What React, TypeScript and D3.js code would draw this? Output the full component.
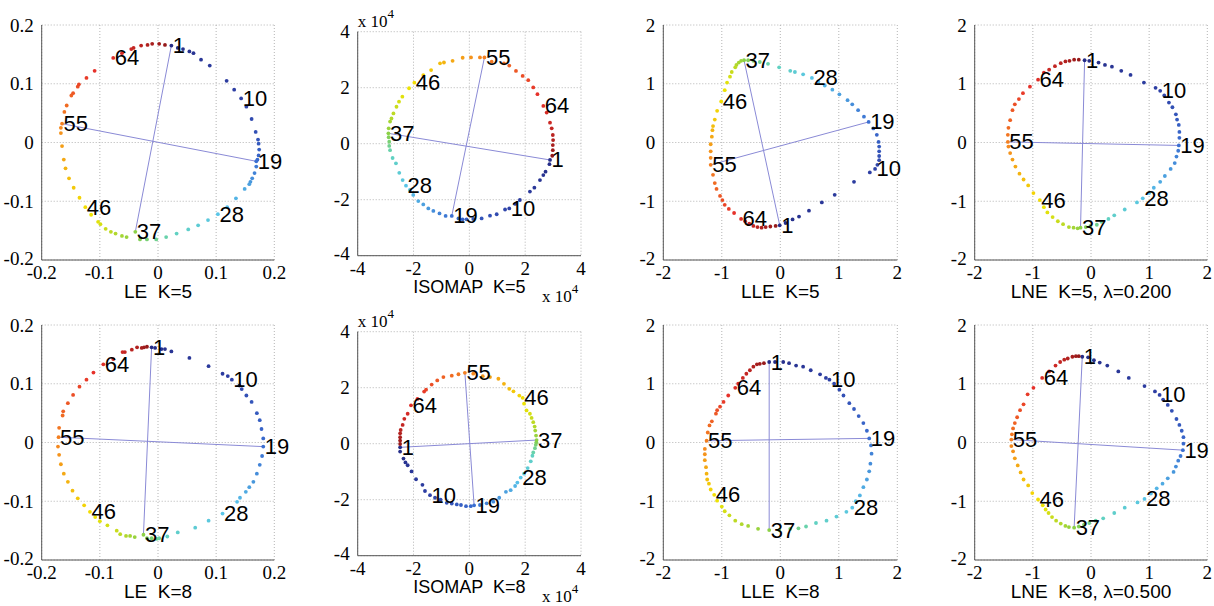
import React, { useEffect, useRef } from 'react';
import * as d3 from 'd3';

// point numbers that get a text label, and the two chords drawn through each loop
const labelIndex = [1, 10, 19, 28, 37, 46, 55, 64];
const chordPairs = [[1, 37], [19, 55]];

const leTicks = [-0.2, -0.1, 0, 0.1, 0.2];
const isoTicks = [-4, -2, 0, 2, 4]; // x 10^4
const unitTicks = [-2, -1, 0, 1, 2];

// embeddings, 72 points each
const leK5 = [
  [0.023, 0.165], [0.034, 0.161], [0.043, 0.159], [0.054, 0.155], [0.061, 0.152], [0.074, 0.141], [0.089, 0.131], [0.118, 0.105], [0.131, 0.09],
  [0.143, 0.075], [0.152, 0.061], [0.161, 0.04], [0.168, 0.018], [0.172, 0.005], [0.173, -0.002], [0.174, -0.012], [0.173, -0.022], [0.171, -0.029],
  [0.169, -0.032], [0.169, -0.041], [0.166, -0.052], [0.162, -0.061], [0.159, -0.067], [0.157, -0.071], [0.149, -0.079], [0.134, -0.095], [0.119, -0.11],
  [0.103, -0.122], [0.086, -0.132], [0.069, -0.141], [0.052, -0.148], [0.032, -0.155], [0.014, -0.161], [-0.003, -0.165], [-0.019, -0.165], [-0.031, -0.165],
  [-0.039, -0.152], [-0.054, -0.161], [-0.062, -0.159], [-0.073, -0.155], [-0.081, -0.152], [-0.09, -0.147], [-0.099, -0.139], [-0.103, -0.135], [-0.115, -0.123],
  [-0.125, -0.11], [-0.135, -0.094], [-0.145, -0.077], [-0.153, -0.061], [-0.159, -0.044], [-0.162, -0.029], [-0.165, -0.006], [-0.167, 0.016], [-0.167, 0.025],
  [-0.165, 0.032], [-0.161, 0.052], [-0.157, 0.063], [-0.149, 0.08], [-0.146, 0.084], [-0.138, 0.095], [-0.136, 0.099], [-0.123, 0.11], [-0.109, 0.122],
  [-0.077, 0.144], [-0.062, 0.152], [-0.046, 0.159], [-0.042, 0.161], [-0.029, 0.165], [-0.018, 0.166], [-0.01, 0.168], [0.002, 0.168], [0.012, 0.166],
];

const isomapK5 = [
  [2.89, -0.58], [2.87, -0.73], [2.73, -1.0], [2.65, -1.12], [2.53, -1.3], [2.33, -1.57], [2.17, -1.71], [1.81, -2.01], [1.64, -2.15],
  [1.43, -2.31], [1.28, -2.35], [0.98, -2.52], [0.74, -2.57], [0.44, -2.67], [0.14, -2.69], [-0.1, -2.7], [-0.24, -2.7], [-0.39, -2.67],
  [-0.63, -2.58], [-0.85, -2.58], [-1.07, -2.49], [-1.29, -2.4], [-1.47, -2.31], [-1.65, -2.17], [-1.83, -2.05], [-2.01, -1.83], [-2.13, -1.65],
  [-2.27, -1.5], [-2.39, -1.3], [-2.51, -1.04], [-2.63, -0.7], [-2.75, -0.51], [-2.84, -0.23], [-2.87, -0.08], [-2.87, 0.07], [-2.89, 0.23],
  [-2.9, 0.37], [-2.89, 0.55], [-2.84, 0.79], [-2.79, 0.9], [-2.72, 1.08], [-2.61, 1.32], [-2.52, 1.5], [-2.4, 1.68], [-2.16, 1.98],
  [-1.97, 2.18], [-1.65, 2.45], [-1.37, 2.63], [-1.05, 2.87], [-0.91, 2.9], [-0.6, 2.96], [-0.24, 3.07], [0.06, 3.08], [0.38, 3.08],
  [0.54, 3.08], [0.8, 2.93], [1.24, 2.87], [1.43, 2.79], [1.67, 2.6], [1.91, 2.42], [2.11, 2.27], [2.29, 2.01], [2.44, 1.77],
  [2.65, 1.35], [2.77, 1.11], [2.89, 0.75], [2.95, 0.55], [2.99, 0.31], [3.0, 0.13], [2.99, -0.05], [2.99, -0.23], [2.97, -0.43],
];

const lleK5 = [
  [-0.01, -1.41], [0.09, -1.37], [0.21, -1.31], [0.32, -1.26], [0.49, -1.16], [0.71, -1.02], [0.93, -0.89], [1.26, -0.67], [1.53, -0.51],
  [1.62, -0.45], [1.66, -0.38], [1.69, -0.3], [1.69, -0.23], [1.69, -0.15], [1.69, -0.07], [1.68, 0.01], [1.65, 0.13], [1.59, 0.24],
  [1.51, 0.35], [1.43, 0.44], [1.33, 0.55], [1.23, 0.65], [1.15, 0.72], [1.01, 0.82], [0.89, 0.9], [0.76, 0.97], [0.65, 1.04],
  [0.54, 1.1], [0.39, 1.16], [0.25, 1.2], [0.17, 1.22], [-0.02, 1.28], [-0.21, 1.34], [-0.35, 1.37], [-0.46, 1.39], [-0.55, 1.4],
  [-0.62, 1.4], [-0.67, 1.39], [-0.71, 1.36], [-0.75, 1.32], [-0.77, 1.28], [-0.83, 1.2], [-0.86, 1.12], [-0.91, 1.02], [-0.95, 0.89],
  [-1.01, 0.7], [-1.08, 0.54], [-1.12, 0.39], [-1.15, 0.28], [-1.16, 0.21], [-1.17, 0.1], [-1.19, -0.03], [-1.19, -0.15], [-1.19, -0.26],
  [-1.19, -0.38], [-1.15, -0.55], [-1.12, -0.69], [-1.09, -0.79], [-1.03, -0.91], [-0.99, -0.98], [-0.95, -1.06], [-0.88, -1.13], [-0.79, -1.2],
  [-0.67, -1.3], [-0.6, -1.34], [-0.53, -1.38], [-0.46, -1.42], [-0.39, -1.44], [-0.32, -1.45], [-0.25, -1.44], [-0.17, -1.43], [-0.08, -1.42],
];

const lneK5 = [
  [-0.11, 1.4], [-0.03, 1.39], [0.13, 1.36], [0.24, 1.32], [0.36, 1.29], [0.52, 1.22], [0.68, 1.15], [0.91, 1.02], [1.11, 0.93],
  [1.19, 0.88], [1.26, 0.8], [1.34, 0.68], [1.4, 0.6], [1.46, 0.48], [1.48, 0.39], [1.51, 0.3], [1.52, 0.18], [1.52, 0.08],
  [1.51, -0.05], [1.5, -0.14], [1.47, -0.24], [1.44, -0.35], [1.37, -0.45], [1.27, -0.57], [1.19, -0.67], [1.08, -0.77], [1.0, -0.86],
  [0.89, -0.95], [0.79, -1.02], [0.58, -1.14], [0.4, -1.24], [0.3, -1.3], [0.18, -1.35], [0.1, -1.4], [-0.01, -1.42], [-0.09, -1.44],
  [-0.18, -1.45], [-0.23, -1.46], [-0.3, -1.45], [-0.38, -1.44], [-0.48, -1.39], [-0.57, -1.34], [-0.66, -1.27], [-0.75, -1.19], [-0.81, -1.1],
  [-0.88, -0.98], [-0.99, -0.86], [-1.08, -0.73], [-1.16, -0.63], [-1.23, -0.53], [-1.3, -0.41], [-1.35, -0.29], [-1.39, -0.18], [-1.42, -0.07],
  [-1.43, 0.01], [-1.43, 0.13], [-1.42, 0.25], [-1.39, 0.38], [-1.35, 0.55], [-1.31, 0.65], [-1.24, 0.74], [-1.17, 0.84], [-1.05, 0.95],
  [-0.91, 1.07], [-0.81, 1.19], [-0.72, 1.24], [-0.62, 1.3], [-0.52, 1.35], [-0.44, 1.38], [-0.37, 1.39], [-0.29, 1.41], [-0.21, 1.41],
];

const leK8 = [
  [-0.011, 0.162], [-0.005, 0.161], [0.006, 0.159], [0.012, 0.159], [0.023, 0.155], [0.054, 0.144], [0.087, 0.13], [0.111, 0.117], [0.12, 0.113],
  [0.127, 0.107], [0.14, 0.097], [0.144, 0.091], [0.152, 0.08], [0.161, 0.069], [0.17, 0.05], [0.175, 0.038], [0.178, 0.023], [0.181, 0.007],
  [0.181, -0.007], [0.179, -0.023], [0.175, -0.038], [0.17, -0.053], [0.164, -0.067], [0.157, -0.076], [0.151, -0.084], [0.141, -0.094], [0.136, -0.101],
  [0.111, -0.121], [0.087, -0.133], [0.064, -0.145], [0.034, -0.153], [0.016, -0.16], [0.002, -0.163], [-0.002, -0.164], [-0.011, -0.163], [-0.019, -0.163],
  [-0.025, -0.157], [-0.04, -0.161], [-0.048, -0.159], [-0.055, -0.159], [-0.065, -0.156], [-0.071, -0.15], [-0.087, -0.141], [-0.1, -0.134], [-0.108, -0.127],
  [-0.117, -0.118], [-0.127, -0.107], [-0.138, -0.095], [-0.147, -0.082], [-0.155, -0.067], [-0.162, -0.053], [-0.167, -0.037], [-0.17, -0.021], [-0.172, -0.007],
  [-0.171, 0.009], [-0.17, 0.025], [-0.164, 0.046], [-0.163, 0.053], [-0.155, 0.067], [-0.146, 0.081], [-0.135, 0.095], [-0.123, 0.107], [-0.111, 0.119],
  [-0.094, 0.133], [-0.077, 0.142], [-0.061, 0.154], [-0.057, 0.154], [-0.045, 0.158], [-0.036, 0.162], [-0.028, 0.161], [-0.024, 0.162], [-0.019, 0.163],
];

const isomapK8 = [
  [-2.48, -0.13], [-2.48, -0.28], [-2.36, -0.53], [-2.29, -0.67], [-2.21, -0.77], [-2.07, -0.99], [-1.91, -1.27], [-1.68, -1.47], [-1.59, -1.69],
  [-1.41, -1.84], [-1.23, -1.93], [-1.03, -2.0], [-0.81, -2.11], [-0.63, -2.14], [-0.45, -2.17], [-0.3, -2.19], [-0.12, -2.23], [0.05, -2.23],
  [0.17, -2.2], [0.38, -2.19], [0.62, -2.13], [0.86, -2.07], [1.07, -1.93], [1.31, -1.72], [1.48, -1.66], [1.64, -1.51], [1.72, -1.39],
  [1.84, -1.21], [1.96, -1.07], [2.09, -0.87], [2.2, -0.63], [2.26, -0.43], [2.29, -0.31], [2.35, -0.16], [2.38, -0.04], [2.4, 0.05],
  [2.41, 0.13], [2.39, 0.29], [2.36, 0.47], [2.34, 0.61], [2.29, 0.77], [2.23, 0.92], [2.17, 1.07], [2.05, 1.19], [1.96, 1.43],
  [1.91, 1.64], [1.79, 1.72], [1.58, 1.87], [1.43, 1.96], [1.24, 2.14], [1.04, 2.32], [0.74, 2.38], [0.48, 2.41], [0.14, 2.5],
  [-0.16, 2.53], [-0.39, 2.48], [-0.63, 2.43], [-0.93, 2.38], [-1.15, 2.26], [-1.35, 2.11], [-1.55, 1.93], [-1.62, 1.86], [-1.86, 1.6],
  [-2.09, 1.37], [-2.21, 1.07], [-2.33, 0.89], [-2.39, 0.67], [-2.46, 0.49], [-2.48, 0.37], [-2.48, 0.23], [-2.48, 0.11], [-2.48, -0.01],
];

const lleK8 = [
  [-0.19, 1.37], [-0.09, 1.37], [0.05, 1.37], [0.15, 1.35], [0.27, 1.31], [0.39, 1.29], [0.52, 1.23], [0.68, 1.16], [0.78, 1.1],
  [0.84, 1.07], [0.92, 1.0], [1.01, 0.9], [1.08, 0.8], [1.18, 0.67], [1.26, 0.57], [1.34, 0.45], [1.42, 0.33], [1.48, 0.2],
  [1.52, 0.07], [1.55, -0.05], [1.56, -0.19], [1.54, -0.36], [1.52, -0.49], [1.48, -0.63], [1.42, -0.76], [1.36, -0.9], [1.29, -1.0],
  [1.23, -1.11], [1.13, -1.18], [0.96, -1.26], [0.79, -1.33], [0.61, -1.37], [0.44, -1.43], [0.31, -1.46], [0.17, -1.47], [-0.02, -1.49],
  [-0.19, -1.49], [-0.38, -1.47], [-0.55, -1.42], [-0.66, -1.39], [-0.77, -1.33], [-0.87, -1.24], [-0.95, -1.17], [-1.0, -1.09], [-1.08, -0.99],
  [-1.13, -0.89], [-1.19, -0.8], [-1.22, -0.7], [-1.25, -0.63], [-1.26, -0.53], [-1.27, -0.42], [-1.29, -0.3], [-1.29, -0.2], [-1.29, -0.11],
  [-1.26, 0.03], [-1.24, 0.17], [-1.21, 0.29], [-1.17, 0.36], [-1.1, 0.49], [-1.08, 0.55], [-1.03, 0.61], [-0.97, 0.69], [-0.89, 0.8],
  [-0.77, 0.93], [-0.72, 1.0], [-0.64, 1.1], [-0.58, 1.17], [-0.52, 1.23], [-0.46, 1.29], [-0.4, 1.33], [-0.35, 1.34], [-0.28, 1.35],
];

const lneK8 = [
  [-0.15, 1.46], [-0.05, 1.45], [0.05, 1.4], [0.15, 1.36], [0.28, 1.31], [0.47, 1.21], [0.65, 1.1], [0.92, 0.96], [1.1, 0.87],
  [1.18, 0.81], [1.24, 0.73], [1.32, 0.64], [1.39, 0.54], [1.47, 0.4], [1.52, 0.3], [1.56, 0.2], [1.59, 0.09], [1.59, -0.02],
  [1.58, -0.13], [1.54, -0.23], [1.5, -0.31], [1.46, -0.41], [1.42, -0.5], [1.32, -0.61], [1.23, -0.7], [1.13, -0.78], [1.03, -0.87],
  [0.92, -0.96], [0.8, -1.02], [0.58, -1.11], [0.4, -1.2], [0.21, -1.29], [0.08, -1.33], [-0.03, -1.37], [-0.12, -1.4], [-0.21, -1.43],
  [-0.29, -1.45], [-0.38, -1.44], [-0.44, -1.42], [-0.52, -1.38], [-0.6, -1.33], [-0.67, -1.27], [-0.73, -1.2], [-0.78, -1.14], [-0.83, -1.07],
  [-0.91, -0.97], [-1.01, -0.86], [-1.08, -0.73], [-1.16, -0.63], [-1.21, -0.51], [-1.26, -0.39], [-1.31, -0.27], [-1.34, -0.15], [-1.37, -0.06],
  [-1.37, 0.05], [-1.36, 0.14], [-1.34, 0.24], [-1.31, 0.33], [-1.27, 0.43], [-1.22, 0.55], [-1.16, 0.65], [-1.09, 0.82], [-0.99, 0.93],
  [-0.84, 1.1], [-0.72, 1.21], [-0.61, 1.31], [-0.53, 1.37], [-0.46, 1.41], [-0.4, 1.43], [-0.32, 1.46], [-0.26, 1.47], [-0.21, 1.47],
];

const panels = [
  { title: 'LE  K=5', data: leK5, ticks: leTicks, col: 0, row: 0 },
  { title: 'ISOMAP  K=5', data: isomapK5, ticks: isoTicks, col: 1, row: 0, exp: true },
  { title: 'LLE  K=5', data: lleK5, ticks: unitTicks, col: 2, row: 0 },
  { title: 'LNE  K=5, \u03bb=0.200', data: lneK5, ticks: unitTicks, col: 3, row: 0 },
  { title: 'LE  K=8', data: leK8, ticks: leTicks, col: 0, row: 1 },
  { title: 'ISOMAP  K=8', data: isomapK8, ticks: isoTicks, col: 1, row: 1, exp: true },
  { title: 'LLE  K=8', data: lleK8, ticks: unitTicks, col: 2, row: 1 },
  { title: 'LNE  K=8, \u03bb=0.500', data: lneK8, ticks: unitTicks, col: 3, row: 1 },
];

const colLeft = [41.7, 357.7, 663.3, 974.7];
const colWidth = [232.6, 223.3, 234, 232.6];
const rowTop = [25, 325];

const serif = "'Liberation Serif', 'Times New Roman', serif";
const sans = "'Liberation Sans', Arial, sans-serif";

// jet-like colormap, toned the way the printed figure shows it
const cmapStops = [0, 0.125, 0.25, 0.375, 0.44, 0.5, 0.625, 0.75, 0.875, 1];
const cmapColors = ['#252c86', '#2e40a6', '#3a6dd0', '#58c4ea', '#62d2c0', '#86d04a', '#f2e400', '#f5861f', '#e6302a', '#961a1a'];
const cmap = d3.scaleLinear<string>().domain(cmapStops).range(cmapColors).interpolate(d3.interpolateRgb);

function drawPanel(svg: any, p: any) {
  const left = colLeft[p.col];
  const w = colWidth[p.col];
  const top = rowTop[p.row] + (p.exp ? 6.7 : 0);
  const h = p.exp ? 224 : 235;
  const dom = d3.extent(p.ticks) as [number, number];
  const x = d3.scaleLinear().domain(dom).range([left, left + w]);
  const y = d3.scaleLinear().domain(dom).range([top + h, top]);
  const g = svg.append('g');

  // dotted grid, the last one on each side doubles as the box edge
  g.selectAll('line.gx').data(p.ticks).join('line')
    .attr('x1', (d: number) => x(d)).attr('x2', (d: number) => x(d))
    .attr('y1', top).attr('y2', top + h)
    .attr('stroke', '#b4b4b4').attr('stroke-dasharray', '1,2');
  g.selectAll('line.gy').data(p.ticks).join('line')
    .attr('y1', (d: number) => y(d)).attr('y2', (d: number) => y(d))
    .attr('x1', left).attr('x2', left + w)
    .attr('stroke', '#b4b4b4').attr('stroke-dasharray', '1,2');

  g.append('line').attr('x1', left).attr('x2', left).attr('y1', top).attr('y2', top + h).attr('stroke', '#555');
  g.append('line').attr('x1', left).attr('x2', left + w).attr('y1', top + h).attr('y2', top + h).attr('stroke', '#555');

  g.selectAll('text.tx').data(p.ticks).join('text')
    .attr('x', (d: number) => x(d)).attr('y', top + h + 19)
    .attr('text-anchor', 'middle').attr('font-family', serif).attr('font-size', 19)
    .text((d: number) => String(d));
  // the lowest y label sits a hair higher so it clears the first x label
  g.selectAll('text.ty').data(p.ticks).join('text')
    .attr('x', left - 8).attr('y', (d: number, i: number) => y(d) - (i === 0 ? 2 : 0))
    .attr('text-anchor', 'end').attr('dominant-baseline', 'central')
    .attr('font-family', serif).attr('font-size', 19)
    .text((d: number) => String(d));

  const pt = (i: number) => p.data[i - 1];
  chordPairs.forEach(([a, b]) => {
    g.append('line')
      .attr('x1', x(pt(a)[0])).attr('y1', y(pt(a)[1]))
      .attr('x2', x(pt(b)[0])).attr('y2', y(pt(b)[1]))
      .attr('stroke', '#8a8ad6').attr('stroke-width', 1);
  });

  const n = p.data.length;
  g.selectAll('circle').data(p.data).join('circle')
    .attr('cx', (d: number[]) => x(d[0])).attr('cy', (d: number[]) => y(d[1]))
    .attr('r', 1.9)
    .attr('fill', (d: number[], i: number) => cmap(i / (n - 1)));

  g.selectAll('text.lbl').data(labelIndex).join('text')
    .attr('x', (i: number) => x(pt(i)[0]) + 1.5).attr('y', (i: number) => y(pt(i)[1]))
    .attr('dominant-baseline', 'central')
    .attr('font-family', sans).attr('font-size', 22)
    .text((i: number) => String(i));

  g.append('text')
    .attr('x', left + w / 2).attr('y', top + h + 38 - (p.exp ? 1 : 0))
    .attr('text-anchor', 'middle').attr('font-family', sans).attr('font-size', p.exp ? 18 : 19)
    .style('white-space', 'pre')
    .text(p.title);

  if (p.exp) {
    const e1 = g.append('text').attr('x', left).attr('y', top - 5).attr('font-family', serif).attr('font-size', 17);
    e1.append('tspan').text('x 10');
    e1.append('tspan').attr('dy', -9).attr('font-size', 13).text('4');
    const e2 = g.append('text').attr('x', left + w - 39).attr('y', top + h + 46).attr('font-family', serif).attr('font-size', 17);
    e2.append('tspan').text('x 10');
    e2.append('tspan').attr('dy', -9).attr('font-size', 13).text('4');
  }
}

export default function App() {
  const ref = useRef<SVGSVGElement>(null);

  useEffect(() => {
    const svg = d3.select(ref.current);
    svg.selectAll('*').remove();
    panels.forEach(p => drawPanel(svg, p));
  }, []);

  return (
    <svg ref={ref} width={1214} height={606}
      style={{ position: 'absolute', left: 0, top: 0, background: '#ffffff' }} />
  );
}
